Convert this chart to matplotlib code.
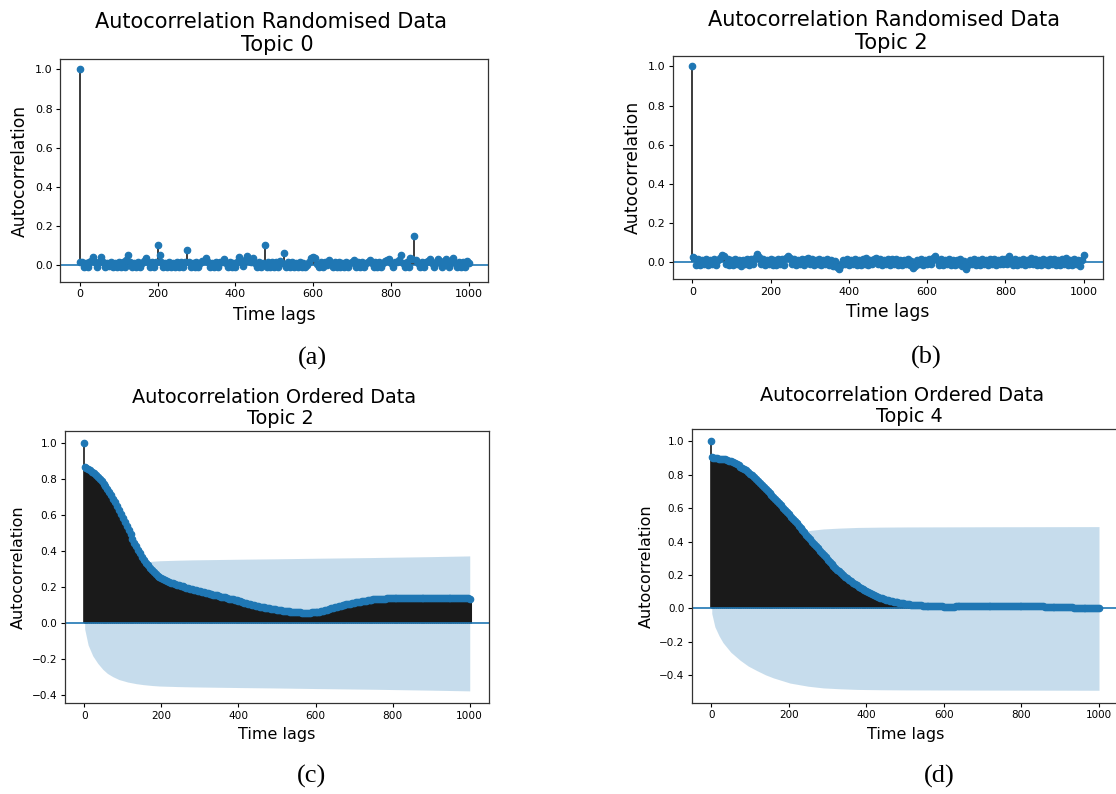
import numpy as np
import matplotlib
matplotlib.use("Agg")
import matplotlib.pyplot as plt

W, H = 1116, 794

# ---------------------------------------------------------------- data
# lags 0, 1, 5, 10, ... 1000
lags = [0, 1] + list(range(5, 1001, 5))

# Randomised data, topic 0
acf_rand_t0 = [
    1.0, 0.015,
    0.016, -0.008, 0.012, -0.010, 0.018, 0.022, 0.042, 0.018, -0.009, 0.020,
    0.041, 0.016, -0.010, 0.011, -0.005, 0.019, -0.009, 0.013, -0.006, 0.017,
    -0.008, 0.015, -0.006, 0.026, 0.052, 0.020, -0.009, 0.014, -0.007, 0.018,
    -0.010, 0.012, 0.024, 0.038, 0.016, -0.008, 0.015, -0.006, 0.020, 0.102,
    0.052, 0.018, -0.008, 0.014, -0.010, 0.017, -0.006, 0.012, -0.009, 0.018,
    -0.007, 0.015, -0.010, 0.019, 0.080, 0.016, -0.008, 0.013, -0.006, 0.018,
    -0.009, 0.014, 0.022, 0.024, 0.040, 0.016, -0.008, 0.013, -0.007, 0.018,
    -0.010, 0.015, 0.020, 0.035, 0.012, -0.008, 0.017, -0.006, 0.014, -0.009,
    0.020, 0.042, 0.022, -0.004, 0.028, 0.050, 0.024, 0.018, 0.037, 0.012,
    -0.009, 0.016, -0.007, 0.014, 0.103, -0.008, 0.017, -0.006, 0.015, -0.010,
    0.018, -0.007, 0.021, 0.012, 0.066, -0.009, 0.015, -0.006, 0.018, -0.010,
    0.013, -0.007, 0.016, -0.009, 0.014, -0.006, 0.004, 0.020, 0.036, 0.043,
    0.038, 0.008, -0.008, 0.016, -0.006, 0.019, 0.004, 0.030, 0.014, -0.009,
    0.015, -0.007, 0.017, -0.010, 0.013, -0.006, 0.018, -0.008, 0.014, 0.020,
    0.026, -0.007, 0.015, -0.009, 0.017, -0.006, 0.014, 0.020, 0.030, 0.012,
    -0.008, 0.016, -0.006, 0.018, -0.009, 0.013, 0.022, 0.026, 0.034, 0.014,
    -0.008, 0.016, 0.020, 0.028, 0.051, 0.014, -0.009, 0.017, -0.006, 0.036,
    0.035, 0.148, 0.030, 0.012, -0.008, 0.016, -0.006, 0.019, 0.024, 0.033,
    0.012, -0.009, 0.020, 0.033, 0.010, -0.008, 0.022, 0.035, 0.012, -0.008,
    0.024, 0.036, 0.012, -0.009, 0.016, -0.006, 0.018, -0.010, 0.025, 0.012,
]

# Randomised data, topic 2
acf_rand_t2 = [
    1.0, 0.025,
    0.020, -0.012, 0.015, -0.014, 0.012, -0.010, 0.018, -0.013, 0.014, -0.011,
    0.016, -0.015, 0.013, 0.020, 0.040, 0.030, -0.008, 0.016, -0.014, 0.012,
    -0.012, 0.017, -0.010, 0.014, -0.018, 0.012, -0.009, 0.018, -0.013, 0.015,
    -0.011, 0.022, 0.042, 0.028, -0.006, 0.016, -0.015, 0.013, -0.011, 0.016,
    -0.014, 0.012, -0.012, 0.017, -0.010, 0.015, -0.013, 0.022, 0.032, 0.020,
    -0.009, 0.016, -0.015, 0.013, -0.010, 0.018, -0.012, 0.015, 0.024, -0.008,
    0.016, -0.014, 0.014, -0.011, 0.018, -0.013, 0.012, -0.010, 0.015, -0.016,
    0.012, -0.020, 0.008, -0.026, -0.034, -0.012, 0.014, -0.010, 0.016, -0.013,
    0.013, -0.011, 0.018, -0.014, 0.012, -0.015, 0.016, -0.009, 0.020, -0.012,
    0.014, -0.010, 0.018, 0.024, -0.008, 0.015, -0.014, 0.013, -0.011, 0.016,
    -0.012, 0.015, -0.010, 0.019, -0.014, 0.012, -0.016, 0.014, -0.011, 0.017,
    -0.013, 0.008, -0.030, -0.018, 0.012, -0.010, 0.016, -0.013, 0.014, -0.009,
    0.018, -0.010, 0.022, 0.030, 0.014, -0.012, 0.015, -0.014, 0.013, -0.010,
    0.017, -0.012, 0.014, -0.016, 0.012, -0.011, 0.015, -0.020, 0.006, -0.034,
    -0.014, 0.014, -0.011, 0.016, -0.013, 0.012, -0.015, 0.018, -0.010, 0.014,
    -0.012, 0.017, -0.009, 0.015, -0.014, 0.012, -0.011, 0.019, -0.010, 0.016,
    -0.008, 0.032, 0.014, -0.012, 0.016, -0.014, 0.012, -0.010, 0.018, -0.013,
    0.014, -0.011, 0.020, -0.009, 0.015, -0.014, 0.013, -0.012, 0.017, -0.010,
    0.014, -0.013, 0.016, -0.011, 0.018, -0.012, 0.013, -0.015, 0.015, -0.010,
    0.020, -0.012, 0.014, -0.014, 0.016, -0.011, 0.012, -0.018, 0.010, 0.035,
]

# Ordered data, topic 2
acf_ord_t2 = [
    1.0, 0.869,
    0.865, 0.858, 0.851, 0.843, 0.835, 0.825, 0.815, 0.803, 0.790, 0.776,
    0.761, 0.745, 0.729, 0.712, 0.693, 0.674, 0.654, 0.632, 0.609, 0.586,
    0.563, 0.540, 0.517, 0.494, 0.471, 0.449, 0.428, 0.408, 0.389, 0.371,
    0.354, 0.338, 0.323, 0.310, 0.297, 0.286, 0.275, 0.266, 0.258, 0.251,
    0.245, 0.240, 0.235, 0.231, 0.227, 0.223, 0.219, 0.215, 0.211, 0.208,
    0.205, 0.202, 0.199, 0.196, 0.193, 0.190, 0.187, 0.184, 0.181, 0.178,
    0.175, 0.172, 0.170, 0.167, 0.165, 0.162, 0.160, 0.157, 0.155, 0.152,
    0.149, 0.146, 0.144, 0.141, 0.138, 0.135, 0.133, 0.130, 0.128, 0.125,
    0.122, 0.119, 0.116, 0.113, 0.110, 0.107, 0.104, 0.101, 0.099, 0.096,
    0.093, 0.091, 0.089, 0.087, 0.085, 0.083, 0.081, 0.079, 0.078, 0.076,
    0.074, 0.073, 0.071, 0.070, 0.068, 0.067, 0.066, 0.065, 0.064, 0.063,
    0.062, 0.061, 0.060, 0.060, 0.060, 0.060, 0.060, 0.061, 0.062, 0.063,
    0.064, 0.066, 0.068, 0.071, 0.074, 0.077, 0.080, 0.083, 0.086, 0.089,
    0.092, 0.095, 0.098, 0.100, 0.103, 0.105, 0.108, 0.110, 0.113, 0.115,
    0.117, 0.119, 0.121, 0.123, 0.125, 0.127, 0.129, 0.130, 0.132, 0.133,
    0.134, 0.135, 0.136, 0.137, 0.138, 0.138, 0.139, 0.139, 0.139, 0.139,
    0.140, 0.140, 0.140, 0.140, 0.140, 0.140, 0.141, 0.141, 0.141, 0.141,
    0.141, 0.141, 0.142, 0.142, 0.142, 0.142, 0.142, 0.142, 0.143, 0.143,
    0.143, 0.143, 0.143, 0.143, 0.143, 0.143, 0.143, 0.143, 0.143, 0.143,
    0.142, 0.142, 0.142, 0.142, 0.141, 0.141, 0.140, 0.140, 0.139, 0.137,
]

# Ordered data, topic 4
acf_ord_t4 = [
    1.0, 0.905,
    0.902, 0.900, 0.899, 0.897, 0.895, 0.893, 0.892, 0.890, 0.885, 0.880,
    0.875, 0.869, 0.863, 0.856, 0.849, 0.842, 0.834, 0.826, 0.817, 0.808,
    0.799, 0.789, 0.778, 0.766, 0.754, 0.741, 0.729, 0.716, 0.703, 0.690,
    0.679, 0.667, 0.655, 0.643, 0.631, 0.618, 0.604, 0.590, 0.577, 0.563,
    0.550, 0.536, 0.523, 0.509, 0.496, 0.482, 0.469, 0.455, 0.441, 0.427,
    0.413, 0.399, 0.386, 0.372, 0.359, 0.345, 0.332, 0.319, 0.306, 0.293,
    0.280, 0.268, 0.256, 0.244, 0.233, 0.222, 0.211, 0.201, 0.191, 0.182,
    0.173, 0.164, 0.155, 0.147, 0.139, 0.131, 0.123, 0.116, 0.109, 0.103,
    0.096, 0.090, 0.084, 0.079, 0.074, 0.069, 0.064, 0.060, 0.056, 0.052,
    0.049, 0.046, 0.043, 0.041, 0.038, 0.036, 0.034, 0.032, 0.030, 0.028,
    0.026, 0.025, 0.023, 0.022, 0.021, 0.020, 0.019, 0.018, 0.017, 0.016,
    0.016, 0.015, 0.015, 0.014, 0.014, 0.013, 0.013, 0.012, 0.012, 0.011,
    0.011, 0.011, 0.011, 0.011, 0.011, 0.012, 0.012, 0.012, 0.012, 0.013,
    0.013, 0.013, 0.013, 0.013, 0.013, 0.014, 0.014, 0.014, 0.014, 0.014,
    0.015, 0.015, 0.015, 0.015, 0.015, 0.015, 0.015, 0.015, 0.015, 0.015,
    0.015, 0.015, 0.015, 0.014, 0.014, 0.014, 0.014, 0.014, 0.014, 0.014,
    0.014, 0.013, 0.013, 0.013, 0.013, 0.013, 0.013, 0.012, 0.012, 0.012,
    0.012, 0.011, 0.011, 0.011, 0.010, 0.010, 0.009, 0.009, 0.008, 0.008,
    0.008, 0.008, 0.007, 0.007, 0.006, 0.006, 0.005, 0.005, 0.005, 0.005,
    0.004, 0.004, 0.003, 0.003, 0.003, 0.003, 0.002, 0.002, 0.002, 0.002,
]

# 95% confidence half-widths (Bartlett) for the ordered series
conf_lags_t2 = [1, 10, 22, 35, 48, 60, 74, 90, 113, 135, 152, 175, 195,
                240, 282, 350, 420, 503, 600, 750, 900, 1000]
conf_t2 = [0.030, 0.120, 0.180, 0.222, 0.255, 0.278, 0.296, 0.312, 0.326,
           0.335, 0.340, 0.345, 0.348, 0.351, 0.353, 0.355, 0.357, 0.359,
           0.362, 0.366, 0.371, 0.375]
conf_lags_t4 = [1, 9, 20, 30, 50, 74, 95, 117, 140, 160, 203, 250, 289,
                330, 376, 440, 505, 700, 1000]
conf_t4 = [0.030, 0.110, 0.165, 0.205, 0.262, 0.310, 0.345, 0.372, 0.398,
           0.416, 0.447, 0.466, 0.476, 0.481, 0.485, 0.487, 0.488, 0.489,
           0.490]

x_ticks = [0, 200, 400, 600, 800, 1000]

# ---------------------------------------------------------------- drawing
fig = plt.figure(figsize=(W / 100, H / 100), dpi=100)
fig.patch.set_facecolor("white")


def px_axes(left, top, right, bottom):
    return fig.add_axes([left / W, 1 - bottom / H, (right - left) / W,
                         (bottom - top) / H])


def acf_panel(ax, lag, acf, stem_lw, conf_lags=None, conf=None):
    lag = np.asarray(lag, dtype=float)
    acf = np.asarray(acf, dtype=float)
    widths = np.full(len(lag), stem_lw)
    widths[0] = 1.2
    ax.vlines(lag, 0, acf, colors="#1a1a1a", linewidths=widths, zorder=2)
    ax.axhline(0, color="C0", lw=1.2, zorder=2)
    if conf is not None:
        cl = np.asarray(conf_lags, dtype=float)
        cv = np.asarray(conf, dtype=float)
        ax.fill_between(cl, -cv, cv, color="C0", alpha=0.25, lw=0, zorder=1)
    ax.plot(lag, acf, "o", color="C0", ms=4.6, mew=0.9, zorder=3)


def style_axes(ax, xlim, ylim, yticks, tick_fs, label_fs):
    ax.set_xlim(*xlim)
    ax.set_ylim(*ylim)
    ax.set_xticks(x_ticks)
    ax.set_yticks(yticks)
    ax.set_yticklabels([f"{t:.1f}".replace("-", "\u2212") for t in yticks])
    ax.tick_params(direction="out", length=3, width=0.8, labelsize=tick_fs,
                   pad=2.5)
    for s in ax.spines.values():
        s.set_linewidth(0.9)
        s.set_color("#333333")
    ax.set_xlabel("Time lags", fontsize=label_fs, labelpad=4.5)
    ax.set_ylabel("Autocorrelation", fontsize=label_fs, labelpad=4)


def title_lines(line1, x1, y1, line2, x2, y2, fs):
    fig.text(x1 / W, 1 - y1 / H, line1, ha="center", va="baseline",
             fontsize=fs, color="black")
    fig.text(x2 / W, 1 - y2 / H, line2, ha="center", va="baseline",
             fontsize=fs, color="black")


def caption(text, x, y):
    fig.text(x / W, 1 - y / H, text, ha="center", va="center",
             fontsize=19, family="Liberation Serif", color="black")


yt_rand = [0.0, 0.2, 0.4, 0.6, 0.8, 1.0]
yt_ord = [-0.4, -0.2, 0.0, 0.2, 0.4, 0.6, 0.8, 1.0]

# (a)
ax_a = px_axes(60.3, 59.3, 488.3, 281.7)
acf_panel(ax_a, lags, acf_rand_t0, stem_lw=1.2)
style_axes(ax_a, (-50, 1050), (-0.083, 1.052), yt_rand, 8, 12.3)
title_lines("Autocorrelation Randomised Data", 270.8, 28.3,
            "Topic 0", 277.8, 51.0, 15)
caption("(a)", 312, 358)

# (b)
ax_b = px_axes(672.7, 56.0, 1103.3, 279.0)
acf_panel(ax_b, lags, acf_rand_t2, stem_lw=1.2)
style_axes(ax_b, (-50, 1050), (-0.085, 1.053), yt_rand, 8, 12.4)
title_lines("Autocorrelation Randomised Data", 884.0, 26.0,
            "Topic 2", 891.7, 49.3, 15)
caption("(b)", 926, 357)

# (c)
ax_c = px_axes(65.0, 431.0, 489.0, 703.3)
acf_panel(ax_c, lags, acf_ord_t2, stem_lw=2.2,
          conf_lags=conf_lags_t2, conf=conf_t2)
style_axes(ax_c, (-50, 1050), (-0.444, 1.069), yt_ord, 7.6, 11.5)
title_lines("Autocorrelation Ordered Data", 273.8, 402.7,
            "Topic 2", 280.2, 424.3, 13.9)
caption("(c)", 311.7, 776.7)

# (d)
ax_d = px_axes(692.0, 429.0, 1118.4, 702.7)
acf_panel(ax_d, lags, acf_ord_t4, stem_lw=2.2,
          conf_lags=conf_lags_t4, conf=conf_t4)
style_axes(ax_d, (-50, 1050), (-0.5645, 1.0745), yt_ord, 7.5, 11.5)
title_lines("Autocorrelation Ordered Data", 902.0, 400.7,
            "Topic 4", 909.2, 422.3, 13.9)
caption("(d)", 939, 776)

fig.savefig("out.png", dpi=100, facecolor="white")
